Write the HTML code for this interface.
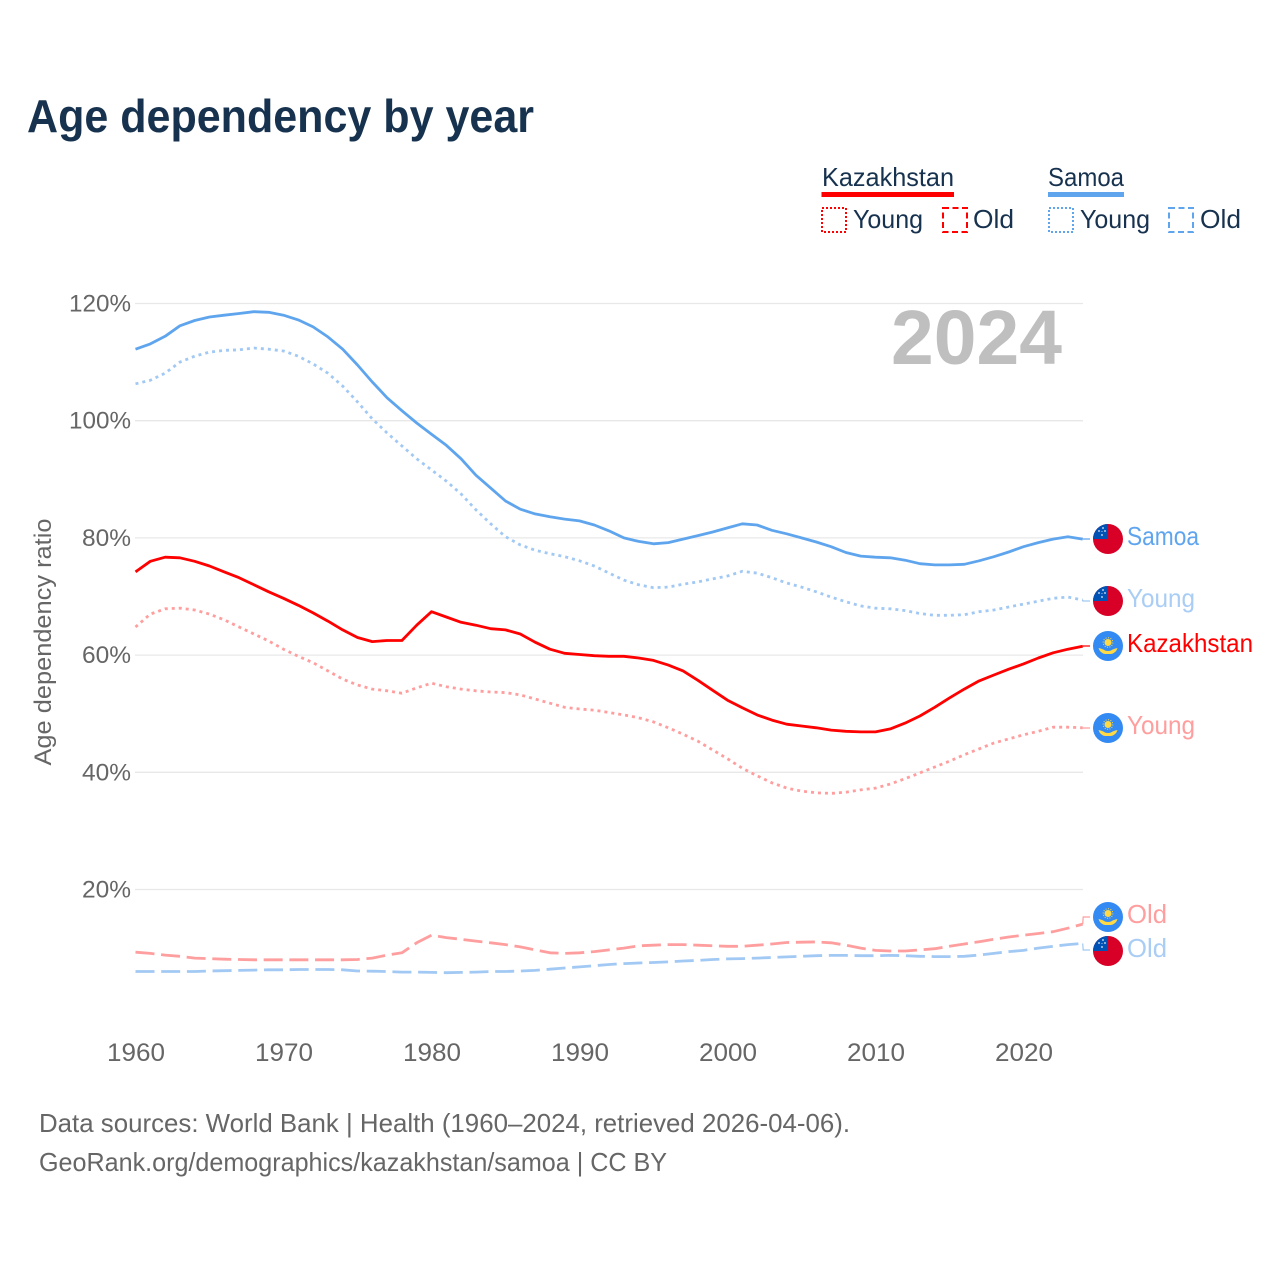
<!DOCTYPE html>
<html lang="en">
<head>
<meta charset="utf-8">
<title>Age dependency by year</title>
<style>
html,body{margin:0;padding:0;background:#fff;width:1280px;height:1280px;overflow:hidden}
svg{display:block}
text{font-family:"Liberation Sans",sans-serif}
</style>
</head>
<body>
<svg id="chart" width="1280" height="1280" viewBox="0 0 1280 1280" xmlns="http://www.w3.org/2000/svg">
  <rect width="1280" height="1280" fill="#fff"/>
  <text x="27" y="132" font-size="46" font-weight="700" fill="#17324f" textLength="507" lengthAdjust="spacingAndGlyphs">Age dependency by year</text>

  <g id="legend" font-size="26" fill="#17324f">
    <text x="822" y="186" textLength="132" lengthAdjust="spacingAndGlyphs">Kazakhstan</text>
    <rect x="821.500" y="192" width="132.500" height="5" fill="#ff0000"/>
    <rect x="822" y="208" width="24" height="24" fill="none" stroke="#ff0000" stroke-width="2" stroke-dasharray="2 2"/>
    <text x="853" y="228" textLength="70" lengthAdjust="spacingAndGlyphs">Young</text>
    <rect x="943" y="208" width="24" height="24" fill="none" stroke="#ff0000" stroke-width="2" stroke-dasharray="6 3.500"/>
    <text x="973" y="228" textLength="41" lengthAdjust="spacingAndGlyphs">Old</text>
    <text x="1048" y="186" textLength="76" lengthAdjust="spacingAndGlyphs">Samoa</text>
    <rect x="1048" y="192" width="76" height="5" fill="#5fa5ee"/>
    <rect x="1049" y="208" width="24" height="24" fill="none" stroke="#5fa5ee" stroke-width="2" stroke-dasharray="2 2"/>
    <text x="1080" y="228" textLength="70" lengthAdjust="spacingAndGlyphs">Young</text>
    <rect x="1169" y="208" width="24" height="24" fill="none" stroke="#5fa5ee" stroke-width="2" stroke-dasharray="6 3.500"/>
    <text x="1200" y="228" textLength="41" lengthAdjust="spacingAndGlyphs">Old</text>
  </g>

  <g id="grid"></g>
  <g id="yticks"></g>
  <g id="xticks"></g>

  <text x="891" y="364" font-size="77" font-weight="700" fill="#bfbfbf" textLength="171" lengthAdjust="spacingAndGlyphs">2024</text>
  <text transform="translate(51,642) rotate(-90)" text-anchor="middle" font-size="24" fill="#666" textLength="247" lengthAdjust="spacingAndGlyphs">Age dependency ratio</text>

  <g id="series"></g>

  <defs>
    <clipPath id="flag-clip"><circle cx="0" cy="0" r="15"/></clipPath>
    <g id="flag-samoa">
      <circle r="15" fill="#d80027"/>
      <g clip-path="url(#flag-clip)"><rect x="-15" y="-15" width="15" height="15" fill="#0052b4"/></g>
      <g fill="#e8eef8"><circle cx="-5" cy="-11" r="0.900"/><circle cx="-3" cy="-8" r="0.900"/><circle cx="-9" cy="-8" r="0.900"/><circle cx="-6" cy="-4" r="0.900"/><circle cx="-6" cy="-7.500" r="0.500"/></g>
    </g>
    <g id="flag-kazakhstan">
      <circle r="15" fill="#338af3"/>
      <circle cx="0" cy="-3.500" r="3.500" fill="#ffda44"/>
      <circle cx="0" cy="-3.500" r="4.800" fill="none" stroke="#ffda44" stroke-width="1" stroke-dasharray="1 1.500" />
      <path d="M-9.500 2 Q-5 3 -3 4.500 Q0 5.500 3 4.500 Q5 3 9.500 2 Q8 7 3 8 L-3 8 Q-8 7 -9.500 2Z" fill="#ffda44"/>
    </g>
  </defs>

  <use href="#flag-samoa" x="1108" y="539"/>
  <use href="#flag-samoa" x="1108" y="601"/>
  <use href="#flag-kazakhstan" x="1108" y="646"/>
  <use href="#flag-kazakhstan" x="1108" y="728"/>
  <use href="#flag-kazakhstan" x="1108" y="917"/>
  <use href="#flag-samoa" x="1108" y="951"/>

  <g font-size="26">
    <text x="1127" y="545" fill="#5fa5ee" textLength="72" lengthAdjust="spacingAndGlyphs">Samoa</text>
    <text x="1127" y="607" fill="#a9cdf5" textLength="68" lengthAdjust="spacingAndGlyphs">Young</text>
    <text x="1127" y="652" fill="#ff0000" textLength="126" lengthAdjust="spacingAndGlyphs">Kazakhstan</text>
    <text x="1127" y="734" fill="#ff9e9e" textLength="68" lengthAdjust="spacingAndGlyphs">Young</text>
    <text x="1127" y="923" fill="#ff9e9e" textLength="40" lengthAdjust="spacingAndGlyphs">Old</text>
    <text x="1127" y="957" fill="#a9cdf5" textLength="40" lengthAdjust="spacingAndGlyphs">Old</text>
  </g>

  <g font-size="26" fill="#666">
    <text x="39" y="1132" textLength="811" lengthAdjust="spacingAndGlyphs">Data sources: World Bank | Health (1960–2024, retrieved 2026-04-06).</text>
    <text x="39" y="1171" textLength="628" lengthAdjust="spacingAndGlyphs">GeoRank.org/demographics/kazakhstan/samoa | CC BY</text>
  </g>
</svg>

<script>
const xTickYears = [1960, 1970, 1980, 1990, 2000, 2010, 2020];
const yTickValues = [20, 40, 60, 80, 100, 120];
const firstYear = 1960;

const samoaTotal = [112.2,113.1,114.4,116.2,117.1,117.7,118.0,118.3,118.6,118.5,118.0,117.2,116.0,114.3,112.2,109.5,106.6,103.9,101.7,99.6,97.7,95.8,93.5,90.7,88.5,86.3,84.9,84.1,83.6,83.2,82.9,82.2,81.2,80.0,79.4,79.0,79.2,79.8,80.4,81.0,81.7,82.4,82.2,81.3,80.7,80.0,79.3,78.5,77.5,76.9,76.7,76.6,76.2,75.6,75.4,75.4,75.5,76.1,76.8,77.6,78.5,79.2,79.8,80.2,79.8];
const samoaYoung = [106.3,106.9,108.1,110.0,111.0,111.7,112.0,112.1,112.4,112.2,111.9,111.0,109.7,108.1,105.9,103.2,100.3,97.9,95.7,93.5,91.6,89.7,87.5,84.8,82.4,80.2,78.8,77.9,77.3,76.8,76.1,75.2,74.0,72.8,72.0,71.5,71.6,72.1,72.5,73.0,73.5,74.3,74.0,73.2,72.3,71.6,70.8,69.9,69.1,68.4,68.0,67.9,67.6,67.1,66.8,66.8,66.9,67.4,67.7,68.2,68.7,69.2,69.7,69.9,69.4];
const samoaOld = [6.0,6.0,6.0,6.0,6.0,6.1,6.15,6.2,6.25,6.3,6.3,6.35,6.35,6.35,6.3,6.1,6.05,6.0,5.9,5.9,5.85,5.8,5.85,5.9,6.0,6.0,6.1,6.2,6.4,6.6,6.8,7.0,7.2,7.35,7.45,7.55,7.65,7.8,7.9,8.05,8.15,8.2,8.3,8.4,8.5,8.6,8.7,8.75,8.75,8.7,8.7,8.75,8.7,8.6,8.55,8.55,8.6,8.8,9.1,9.4,9.6,10.0,10.3,10.6,10.8];
const kazakhstanTotal = [74.2,76.0,76.7,76.6,76.0,75.2,74.2,73.2,72.0,70.8,69.7,68.5,67.2,65.8,64.3,63.0,62.3,62.5,62.5,65.1,67.4,66.5,65.6,65.1,64.5,64.3,63.6,62.2,61.0,60.3,60.1,59.9,59.8,59.8,59.5,59.1,58.3,57.3,55.7,54.0,52.3,51.0,49.8,48.9,48.2,47.9,47.6,47.2,47.0,46.9,46.9,47.4,48.4,49.6,51.1,52.7,54.2,55.6,56.6,57.6,58.5,59.5,60.4,61.0,61.5];
const kazakhstanYoung = [64.8,67.0,67.9,68.0,67.7,67.0,66.0,64.8,63.6,62.4,61.0,59.8,58.7,57.3,55.9,54.9,54.2,53.9,53.5,54.4,55.2,54.6,54.2,53.9,53.7,53.6,53.2,52.5,51.8,51.1,50.8,50.6,50.2,49.8,49.3,48.6,47.6,46.5,45.3,43.8,42.3,40.7,39.4,38.2,37.3,36.8,36.5,36.4,36.6,37.0,37.3,38.0,38.9,39.9,40.9,41.9,43.0,44.0,45.0,45.7,46.4,47.0,47.7,47.7,47.6];
const kazakhstanOld = [9.3,9.1,8.8,8.6,8.3,8.2,8.1,8.05,8.0,8.0,8.0,8.0,8.0,8.0,8.0,8.05,8.3,8.8,9.2,10.9,12.2,11.8,11.5,11.2,10.9,10.6,10.2,9.7,9.2,9.1,9.2,9.4,9.7,10.0,10.4,10.5,10.6,10.6,10.5,10.4,10.3,10.3,10.5,10.7,10.95,11.0,11.05,10.9,10.5,10.0,9.6,9.5,9.5,9.7,9.9,10.3,10.7,11.1,11.5,11.9,12.2,12.5,12.8,13.4,14.1];

const SVG_NS = 'http://www.w3.org/2000/svg';
function xScale(year) { return 135.5 + (year - 1960) * 14.8; }
function yScale(value) { return 1006.7 - value * 5.86; }

const gridGroup = document.getElementById('grid');
const yTickGroup = document.getElementById('yticks');
const xTickGroup = document.getElementById('xticks');
const seriesGroup = document.getElementById('series');

yTickValues.forEach(function (v) {
  const line = document.createElementNS(SVG_NS, 'line');
  line.setAttribute('x1', 135);
  line.setAttribute('x2', 1083);
  line.setAttribute('y1', yScale(v));
  line.setAttribute('y2', yScale(v));
  line.setAttribute('stroke', '#e8e8e8');
  line.setAttribute('stroke-width', 1.3);
  
  
  gridGroup.appendChild(line);

  const label = document.createElementNS(SVG_NS, 'text');
  label.textContent = v + '%';
  label.setAttribute('x', 131);
  label.setAttribute('y', yScale(v) + 8);
  label.setAttribute('text-anchor', 'end');
  label.setAttribute('font-size', 24);
  label.setAttribute('fill', '#666');
  label.setAttribute('textLength', v >= 100 ? 62 : 49);
  label.setAttribute('lengthAdjust', 'spacingAndGlyphs');
  
  
  yTickGroup.appendChild(label);
});

xTickYears.forEach(function (yr) {
  const label = document.createElementNS(SVG_NS, 'text');
  label.textContent = String(yr);
  label.setAttribute('x', xScale(yr) + 0.5);
  label.setAttribute('y', 1061);
  label.setAttribute('text-anchor', 'middle');
  label.setAttribute('font-size', 25);
  label.setAttribute('fill', '#666');
  label.setAttribute('textLength', 58);
  label.setAttribute('lengthAdjust', 'spacingAndGlyphs');
  
  
  xTickGroup.appendChild(label);
});

function drawSeries(values, color, dash, name, labelY) {
  const pts = values.map(function (v, i) {
    return xScale(firstYear + i).toFixed(1) + ',' + yScale(v).toFixed(1);
  });
  const path = document.createElementNS(SVG_NS, 'polyline');
  path.setAttribute('points', pts.join(' '));
  path.setAttribute('fill', 'none');
  path.setAttribute('stroke', color);
  path.setAttribute('stroke-width', 2.8);
  path.setAttribute('stroke-linejoin', 'round');
  if (dash) path.setAttribute('stroke-dasharray', dash);
  
  
  seriesGroup.appendChild(path);

  const endX = xScale(firstYear + values.length - 1);
  const endY = yScale(values[values.length - 1]);
  const conn = document.createElementNS(SVG_NS, 'polyline');
  conn.setAttribute('points', endX.toFixed(1) + ',' + endY.toFixed(1) + ' ' + (endX + 0.5).toFixed(1) + ',' + labelY + ' 1090,' + labelY);
  conn.setAttribute('fill', 'none');
  conn.setAttribute('stroke', color);
  conn.setAttribute('stroke-width', 1.2);
  
  
  seriesGroup.appendChild(conn);
}

drawSeries(kazakhstanOld, '#ff9e9e', '19 6.7', 'kazakhstan-old', 917);
drawSeries(samoaOld, '#a2c9f4', '19 6.7', 'samoa-old', 950);
drawSeries(kazakhstanYoung, '#ff9e9e', '3 4', 'kazakhstan-young', 728);
drawSeries(samoaYoung, '#a2c9f4', '3 4', 'samoa-young', 601);
drawSeries(kazakhstanTotal, '#ff0000', '', 'kazakhstan-total', 646);
drawSeries(samoaTotal, '#5fa5ee', '', 'samoa-total', 539);
</script>
</body>
</html>
